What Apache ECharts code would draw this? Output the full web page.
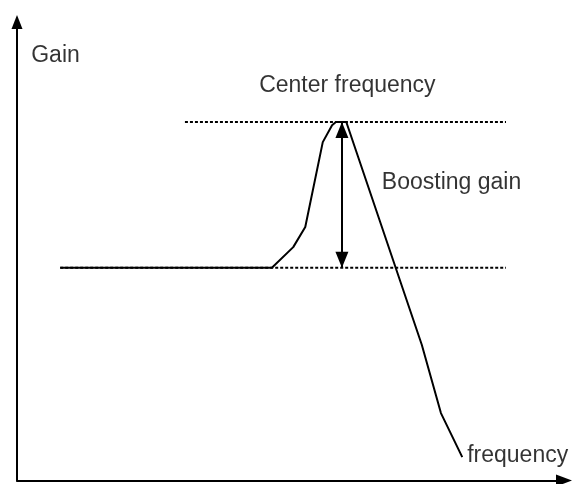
<!DOCTYPE html>
<html>
<head>
<meta charset="utf-8">
<script src="https://cdn.jsdelivr.net/npm/echarts@6/dist/echarts.min.js"></script>
<style>
  html, body { margin: 0; padding: 0; background: #fff; }
  #chart { width: 572px; height: 484px; }
</style>
</head>
<body>
<div id="chart"></div>
<script>
// response curve (frequency, gain) in arbitrary 0-100 units
const freq = [7.9, 46.6, 50.5, 52.7, 55.9, 57.6, 58.3, 60.2, 74.0, 77.5, 81.4];
const gain = [46.4, 46.4, 50.9, 55.3, 73.8, 77.5, 78.2, 78.2, 29.6, 14.7, 5.1];

const baseGain = 46.4;
const peakGain = 78.2;
const centerFreq = 59.4;
const topRefStart = 30.7;
const bottomRefStart = 7.9;
const refEnd = 89.4;

const labels = [
  { text: "Gain", x: 2.6, y: 92.7, align: "left" },
  { text: "Center frequency", x: 60.4, y: 86.1, align: "center" },
  { text: "Boosting gain", x: 66.7, y: 65.0, align: "left" },
  { text: "frequency", x: 82.3, y: 5.5, align: "left" },
];

const chart = echarts.init(document.getElementById("chart"));

const dotted = { color: "#000", width: 2, type: [3, 2] };
const font = "Liberation Sans, Arial, sans-serif";

chart.setOption({
  animation: false,
  grid: { left: 17, right: 8, top: 22, bottom: 3.5 },
  xAxis: {
    type: "value",
    min: 0,
    max: 100,
    axisLine: {
      show: true,
      symbol: ["none", "triangle"],
      symbolSize: [12, 16],
      lineStyle: { color: "#000", width: 2 },
    },
    axisTick: { show: false },
    axisLabel: { show: false },
    splitLine: { show: false },
  },
  yAxis: {
    type: "value",
    min: 0,
    max: 100,
    axisLine: {
      show: true,
      symbol: ["none", "triangle"],
      symbolSize: [11, 14],
      lineStyle: { color: "#000", width: 2 },
    },
    axisTick: { show: false },
    axisLabel: { show: false },
    splitLine: { show: false },
  },
  series: [
    {
      type: "line",
      data: freq.map((f, i) => [f, gain[i]]),
      symbol: "none",
      lineStyle: { color: "#000", width: 2 },
      z: 3,
    },
    {
      type: "line",
      data: [[topRefStart, peakGain], [refEnd, peakGain]],
      symbol: "none",
      lineStyle: dotted,
    },
    {
      type: "line",
      data: [[bottomRefStart, baseGain], [refEnd, baseGain]],
      symbol: "none",
      lineStyle: dotted,
    },
    {
      type: "line",
      data: [],
      markLine: {
        silent: true,
        symbol: ["triangle", "triangle"],
        symbolSize: [13, 16],
        symbolOffset: [0, 0],
        label: { show: false },
        lineStyle: { color: "#000", width: 2, type: "solid" },
        data: [[
          { coord: [centerFreq, peakGain], symbolOffset: [0, 8] },
          { coord: [centerFreq, baseGain], symbolOffset: [0, 8] },
        ]],
      },
    },
    {
      type: "scatter",
      symbolSize: 0,
      data: labels.map((l) => ({
        value: [l.x, l.y],
        label: {
          show: true,
          position: "inside",
          formatter: l.text,
          align: l.align,
          verticalAlign: "middle",
          color: "#000",
          fontSize: 23,
          fontFamily: font,
        },
      })),
    },
  ],
});
</script>
</body>
</html>
